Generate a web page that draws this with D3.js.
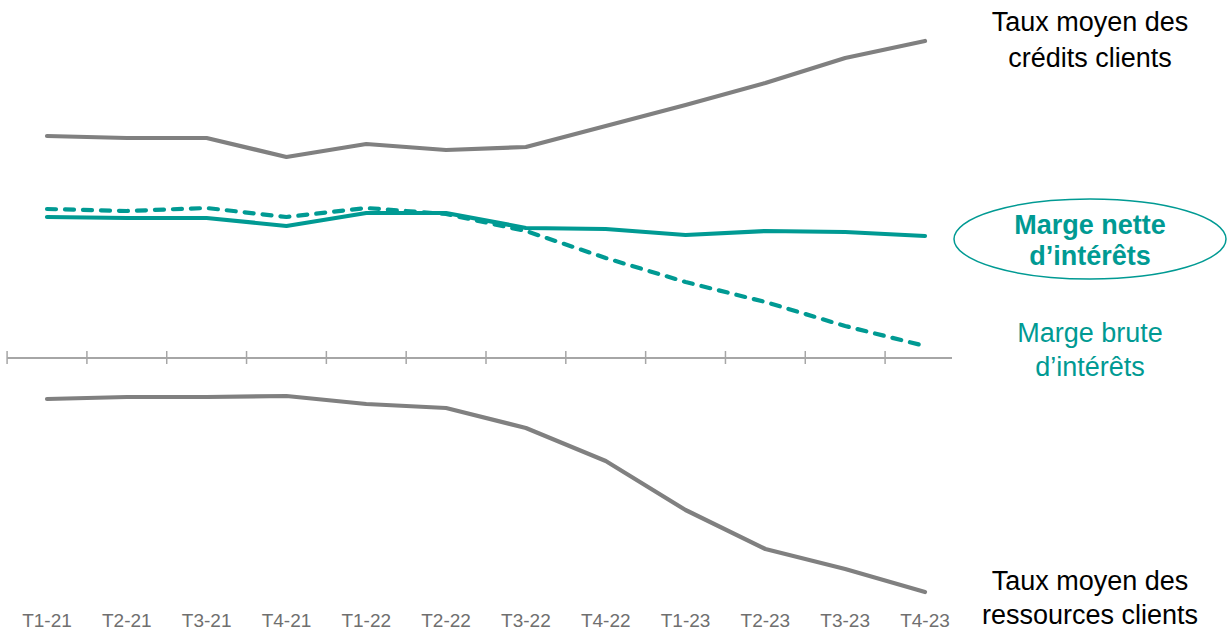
<!DOCTYPE html>
<html>
<head>
<meta charset="utf-8">
<script src="https://cdn.jsdelivr.net/npm/d3@7"></script>
<style>
  body { margin: 0; background: #fff; }
  text { font-family: "Liberation Sans", Arial, sans-serif; }
</style>
</head>
<body>
<script>
var quarters = ['T1-21','T2-21','T3-21','T4-21','T1-22','T2-22','T3-22','T4-22','T1-23','T2-23','T3-23','T4-23'];

// taux / marges, en points (lecture graphique)
var creditRate = [2.22, 2.20, 2.20, 2.01, 2.14, 2.08, 2.11, 2.32, 2.53, 2.75, 3.00, 3.17];
var netMargin  = [1.41, 1.40, 1.40, 1.32, 1.45, 1.45, 1.30, 1.29, 1.23, 1.27, 1.26, 1.22];
var grossMargin = [1.49, 1.47, 1.50, 1.41, 1.50, 1.44, 1.27, 1.00, 0.76, 0.56, 0.32, 0.12];
var depositRate = [-0.41, -0.39, -0.39, -0.38, -0.46, -0.50, -0.70, -1.03, -1.52, -1.91, -2.11, -2.34];

var width = 1228, height = 630;
var grey = '#808080', teal = '#009a93';

var svg = d3.select('body').append('svg')
    .attr('width', width)
    .attr('height', height);

var x = d3.scalePoint()
    .domain(quarters)
    .range([47, 925]);

var y = d3.scaleLinear()
    .domain([-2.5, 3.5])
    .range([608, 8]);

var step = x.step();

// axe des abscisses
var axis = svg.append('g').attr('class', 'axis');
axis.append('line')
    .attr('x1', x(quarters[0]) - step/2)
    .attr('x2', 952)
    .attr('y1', y(0)).attr('y2', y(0))
    .style('stroke', '#a6a6a6')
    .style('stroke-width', 2);

axis.selectAll('.tick')
    .data(quarters)
    .enter()
    .append('line')
    .attr('class', 'tick')
    .attr('x1', function(d) { return x(d) - step/2; })
    .attr('x2', function(d) { return x(d) - step/2; })
    .attr('y1', y(0) - 7)
    .attr('y2', y(0) + 6)
    .style('stroke', '#a6a6a6')
    .style('stroke-width', 1.5);

axis.selectAll('.lbl')
    .data(quarters)
    .enter()
    .append('text')
    .attr('class', 'lbl')
    .attr('x', function(d) { return x(d); })
    .attr('y', 627)
    .style('text-anchor', 'middle')
    .style('font-size', '19px')
    .style('fill', '#6f6f6f')
    .text(function(d) { return d; });

var line = d3.line()
    .x(function(d, i) { return x(quarters[i]); })
    .y(function(d) { return y(d); });

var series = [
    {values: creditRate, color: grey, dash: null},
    {values: depositRate, color: grey, dash: null},
    {values: grossMargin, color: teal, dash: '9,9'},
    {values: netMargin, color: teal, dash: null}
];

svg.selectAll('.serie')
    .data(series)
    .enter()
    .append('path')
    .attr('class', 'serie')
    .attr('d', function(d) { return line(d.values); })
    .style('fill', 'none')
    .style('stroke', function(d) { return d.color; })
    .style('stroke-width', 4.2)
    .style('stroke-linecap', 'round')
    .style('stroke-linejoin', 'round')
    .style('stroke-dasharray', function(d) { return d.dash; });

// libellés à droite
svg.append('ellipse')
    .attr('cx', 1090)
    .attr('cy', 239)
    .attr('rx', 136)
    .attr('ry', 40)
    .style('fill', 'none')
    .style('stroke', teal)
    .style('stroke-width', 1.5);

var labels = [
    {lines: ['Taux moyen des', 'crédits clients'], y: [31, 67], color: '#000', bold: false},
    {lines: ['Marge nette', 'd\u2019intérêts'], y: [234, 265], color: teal, bold: true},
    {lines: ['Marge brute', 'd\u2019intérêts'], y: [342, 376], color: teal, bold: false},
    {lines: ['Taux moyen des', 'ressources clients'], y: [590, 624], color: '#000', bold: false}
];

labels.forEach(function(l) {
    l.lines.forEach(function(t, i) {
        svg.append('text')
            .attr('x', 1090)
            .attr('y', l.y[i])
            .style('text-anchor', 'middle')
            .style('font-size', '27px')
            .style('font-weight', l.bold ? 'bold' : 'normal')
            .style('fill', l.color)
            .text(t);
    });
});
</script>
</body>
</html>
